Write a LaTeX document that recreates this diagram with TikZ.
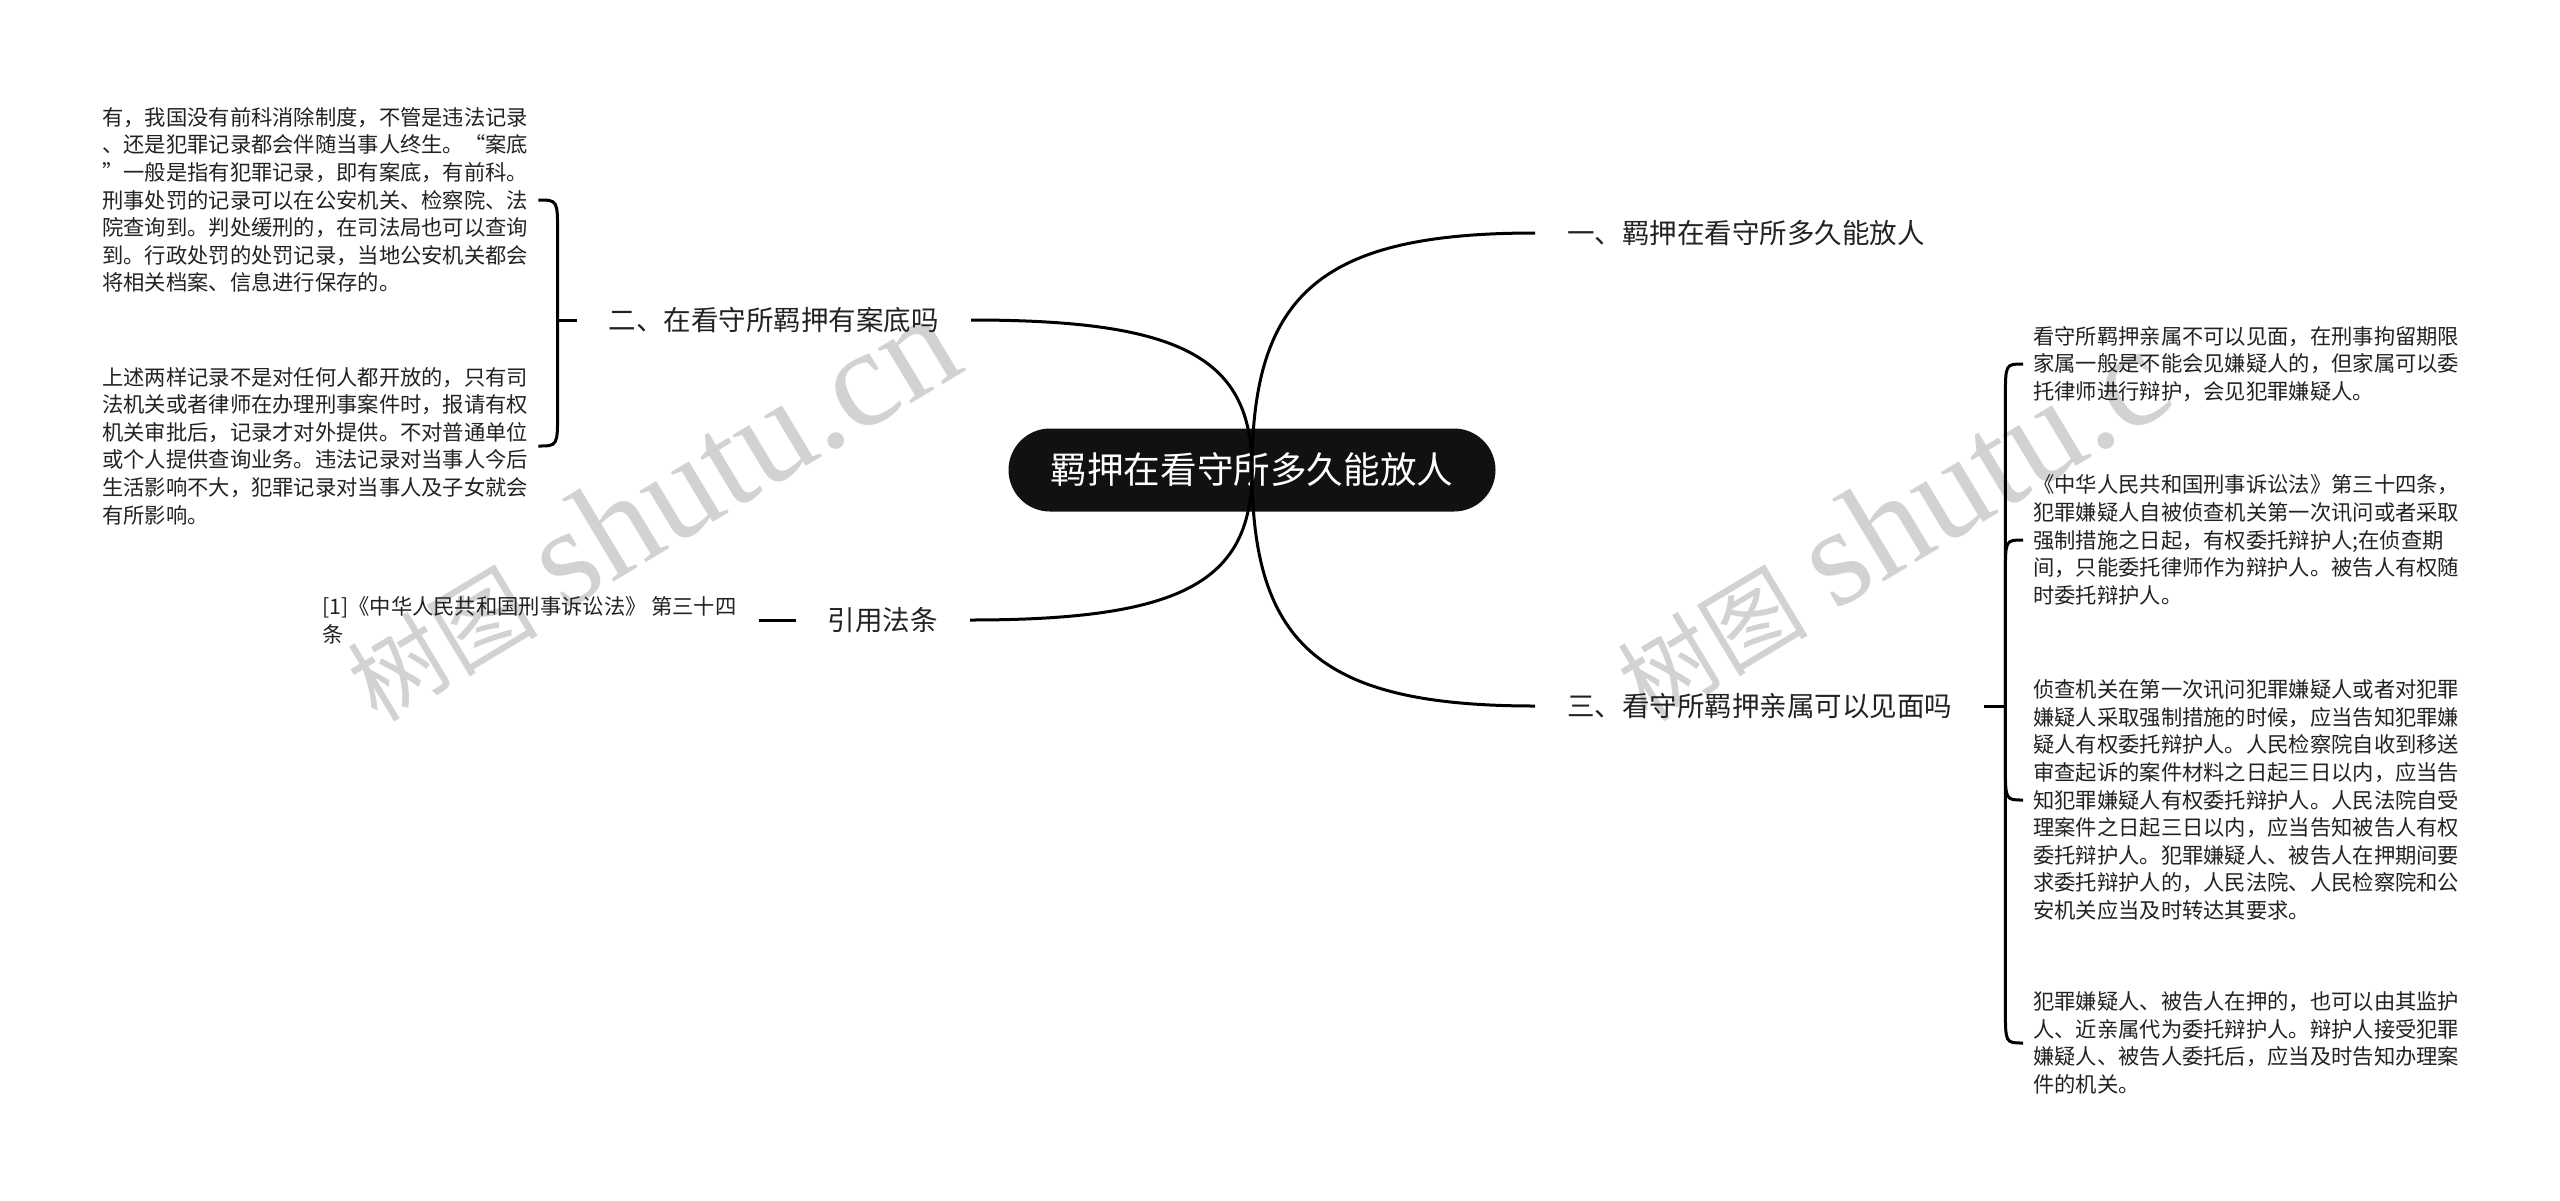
\documentclass[tikz,border=0pt]{standalone}
\usepackage{fontspec}
\setmainfont{Noto Sans CJK SC}
\newfontfamily\wmlatin{Liberation Serif}
\usetikzlibrary{calc}
\definecolor{rootfill}{HTML}{111111}
\definecolor{txt}{HTML}{222222}
\definecolor{wmgray}{HTML}{D2D2D2}
\begin{document}
\begin{tikzpicture}[x=1pt,y=-1pt,
  conn/.style={line width=3pt, black},
  leaf/.style={align=left, inner xsep=10pt, inner ysep=0pt, text=txt,
    font=\fontsize{21.3}{27.6}\selectfont},
  branch/.style={inner xsep=32pt, inner ysep=4pt, text=txt,
    font=\fontsize{27.5}{32}\selectfont},
  rootnode/.style={fill=rootfill, text=white, rounded corners=41.5pt,
    minimum width=487pt, minimum height=83pt, inner sep=0pt,
    font=\fontsize{36.6}{42}\selectfont},
  wm/.style={rotate=31, text=wmgray, inner sep=0pt}]
\useasboundingbox[fill=white] (0,0) rectangle (2560,1200);

% watermarks
\node[wm] (wm1) at (650,508) {{\fontsize{95}{95}\selectfont 树图}\hspace{28pt}{\wmlatin\fontsize{140}{140}\selectfont shutu.cn}};
\node[wm] (wm2) at (1920,508) {{\fontsize{95}{95}\selectfont 树图}\hspace{28pt}{\wmlatin\fontsize{140}{140}\selectfont shutu.c\phantom{n}}};

% root
\node[rootnode] (root) at (1252,470) {羁押在看守所多久能放人};

% branches
\node[branch, anchor=west] (n1) at (1535,233) {一、羁押在看守所多久能放人};
\node[branch, anchor=west] (n3) at (1535,706) {三、看守所羁押亲属可以见面吗};
\node[branch, anchor=east] (n2) at (971,320) {二、在看守所羁押有案底吗};
\node[branch, anchor=east] (n4) at (970,620) {引用法条};

% left leaves
\node[leaf, anchor=west] (lA) at (92,200) {有，我国没有前科消除制度，不管是违法记录\\、还是犯罪记录都会伴随当事人终生。“案底\\”一般是指有犯罪记录，即有案底，有前科。\\刑事处罚的记录可以在公安机关、检察院、法\\院查询到。判处缓刑的，在司法局也可以查询\\到。行政处罚的处罚记录，当地公安机关都会\\将相关档案、信息进行保存的。};
\node[leaf, anchor=west] (lB) at (92,446) {上述两样记录不是对任何人都开放的，只有司\\法机关或者律师在办理刑事案件时，报请有权\\机关审批后，记录才对外提供。不对普通单位\\或个人提供查询业务。违法记录对当事人今后\\生活影响不大，犯罪记录对当事人及子女就会\\有所影响。};
\node[leaf, anchor=west, inner xsep=22pt] (lC) at (300,620) {[1]《中华人民共和国刑事诉讼法》 第三十四\\条};

% right leaves
\node[leaf, anchor=west] (r1) at (2023,364) {看守所羁押亲属不可以见面，在刑事拘留期限\\家属一般是不能会见嫌疑人的，但家属可以委\\托律师进行辩护，会见犯罪嫌疑人。};
\node[leaf, anchor=west] (r2) at (2023,540) {《中华人民共和国刑事诉讼法》第三十四条，\\犯罪嫌疑人自被侦查机关第一次讯问或者采取\\强制措施之日起，有权委托辩护人;在侦查期\\间，只能委托律师作为辩护人。被告人有权随\\时委托辩护人。};
\node[leaf, anchor=west] (r3) at (2023,800) {侦查机关在第一次讯问犯罪嫌疑人或者对犯罪\\嫌疑人采取强制措施的时候，应当告知犯罪嫌\\疑人有权委托辩护人。人民检察院自收到移送\\审查起诉的案件材料之日起三日以内，应当告\\知犯罪嫌疑人有权委托辩护人。人民法院自受\\理案件之日起三日以内，应当告知被告人有权\\委托辩护人。犯罪嫌疑人、被告人在押期间要\\求委托辩护人的，人民法院、人民检察院和公\\安机关应当及时转达其要求。};
\node[leaf, anchor=west] (r4) at (2023,1043) {犯罪嫌疑人、被告人在押的，也可以由其监护\\人、近亲属代为委托辩护人。辩护人接受犯罪\\嫌疑人、被告人委托后，应当及时告知办理案\\件的机关。};

% main curves from root
\draw[conn] (root.center) .. controls ($(root.center)!0.75!(root.center |- n1.west)$) and ($(root.center |- n1.west)!0.25!(n1.west)$) .. (n1.west);
\draw[conn] (root.center) .. controls ($(root.center)!0.75!(root.center |- n3.west)$) and ($(root.center |- n3.west)!0.25!(n3.west)$) .. (n3.west);
\draw[conn] (root.center) .. controls ($(root.center)!0.75!(root.center |- n2.east)$) and ($(root.center |- n2.east)!0.25!(n2.east)$) .. (n2.east);
\draw[conn] (root.center) .. controls ($(root.center)!0.75!(root.center |- n4.east)$) and ($(root.center |- n4.east)!0.25!(n4.east)$) .. (n4.east);

% right bracket
\coordinate (rb) at ($(n3.east)+(21,0)$);
\draw[conn] (n3.east) -- (rb);
\draw[conn] (rb) -- ($(rb |- r1.west)+(0,34)$) .. controls (rb |- r1.west) .. (r1.west);
\draw[conn] (rb) -- ($(rb |- r2.west)+(0,34)$) .. controls (rb |- r2.west) .. (r2.west);
\draw[conn] (rb) -- ($(rb |- r3.west)+(0,-34)$) .. controls (rb |- r3.west) .. (r3.west);
\draw[conn] (rb) -- ($(rb |- r4.west)+(0,-34)$) .. controls (rb |- r4.west) .. (r4.west);

% left bracket
\coordinate (lb) at ($(n2.west)+(-19,0)$);
\draw[conn] (n2.west) -- (lb);
\draw[conn] (lb) -- ($(lb |- lA.east)+(0,34)$) .. controls (lb |- lA.east) .. (lA.east);
\draw[conn] (lb) -- ($(lb |- lB.east)+(0,-34)$) .. controls (lb |- lB.east) .. (lB.east);

% citation link
\draw[conn] (lC.east) -- (n4.west);
\end{tikzpicture}
\end{document}
